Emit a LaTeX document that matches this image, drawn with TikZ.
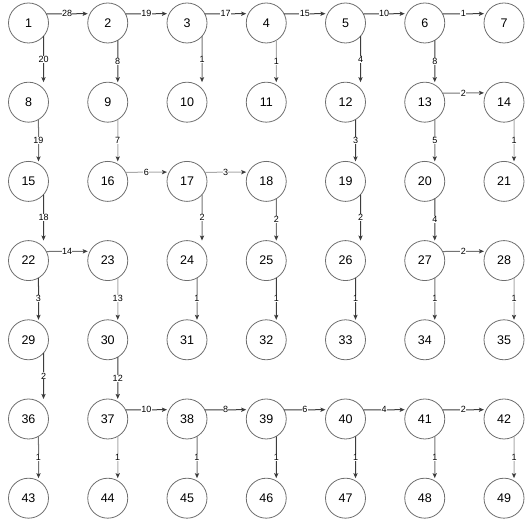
\documentclass[tikz,border=0pt]{standalone}
\usepackage{fontspec}
\setmainfont{Liberation Sans}
\usetikzlibrary{arrows.meta,calc}
\definecolor{circ}{RGB}{110,110,110}
\definecolor{eD}{RGB}{60,60,60}
\definecolor{eM}{RGB}{115,115,115}
\definecolor{eL}{RGB}{170,170,170}
\tikzset{
  vtx/.style={circle,draw=circ,line width=0.8pt,minimum size=40pt,inner sep=0pt,outer sep=0pt,font=\fontsize{12.5}{14}\selectfont},
  edge/.style={line width=1pt,-{Stealth[length=5pt,width=4.2pt,inset=1pt,color=eD]}},
  lab/.style={fill=white,inner sep=0.4pt,font=\fontsize{9}{10}\selectfont,text=black}
}
\newcommand\hedge[4]{\draw[edge,draw=e#4] (n#1.27.7) -- node[lab]{#3} ($(n#2.west)+(0,9.3)$);}
\newcommand\vedgeA[4]{\draw[edge,draw=e#4] (n#1.-60) -- node[lab]{#3} ($(n#2.north)+(10,0)$);}
\newcommand\vedgeB[4]{\draw[edge,draw=e#4] (n#1.-41.4) -- node[lab]{#3} ($(n#2.north)+(15,0)$);}
\begin{document}
\begin{tikzpicture}[x=1pt,y=1pt]
\useasboundingbox (0,0) rectangle (530,524);
\foreach \r in {0,...,6}{
  \foreach \c in {0,...,6}{
    \pgfmathtruncatemacro\n{7*\r+\c+1}
    \node[vtx] (n\n) at ({28.5+79.25*\c},{501-79.2*\r}) {\n};
  }
}
% horizontal edges
\hedge{1}{2}{28}{D}
\hedge{2}{3}{19}{D}
\hedge{3}{4}{17}{D}
\hedge{4}{5}{15}{D}
\hedge{5}{6}{10}{D}
\hedge{6}{7}{1}{D}
\hedge{13}{14}{2}{M}
\hedge{16}{17}{6}{L}
\hedge{17}{18}{3}{L}
\hedge{22}{23}{14}{M}
\hedge{27}{28}{2}{M}
\hedge{37}{38}{10}{D}
\hedge{38}{39}{8}{D}
\hedge{39}{40}{6}{D}
\hedge{40}{41}{4}{D}
\hedge{41}{42}{2}{D}
% vertical edges
\vedgeB{1}{8}{20}{D}
\vedgeA{2}{9}{8}{D}
\vedgeB{3}{10}{1}{M}
\vedgeA{4}{11}{1}{L}
\vedgeB{5}{12}{4}{D}
\vedgeA{6}{13}{8}{D}
\vedgeA{8}{15}{19}{M}
\vedgeA{9}{16}{7}{L}
\vedgeA{12}{19}{3}{D}
\vedgeA{13}{20}{5}{M}
\vedgeA{14}{21}{1}{L}
\vedgeB{15}{22}{18}{D}
\vedgeB{17}{24}{2}{M}
\vedgeA{18}{25}{2}{M}
\vedgeB{19}{26}{2}{D}
\vedgeA{20}{27}{4}{D}
\vedgeA{22}{29}{3}{D}
\vedgeA{23}{30}{13}{L}
\vedgeA{24}{31}{1}{M}
\vedgeA{25}{32}{1}{D}
\vedgeA{26}{33}{1}{D}
\vedgeA{27}{34}{1}{M}
\vedgeA{28}{35}{1}{L}
\vedgeB{29}{36}{2}{D}
\vedgeA{30}{37}{12}{D}
\vedgeA{36}{43}{1}{M}
\vedgeA{37}{44}{1}{L}
\vedgeA{38}{45}{1}{M}
\vedgeA{39}{46}{1}{D}
\vedgeA{40}{47}{1}{D}
\vedgeA{41}{48}{1}{M}
\vedgeA{42}{49}{1}{L}
\end{tikzpicture}
\end{document}
